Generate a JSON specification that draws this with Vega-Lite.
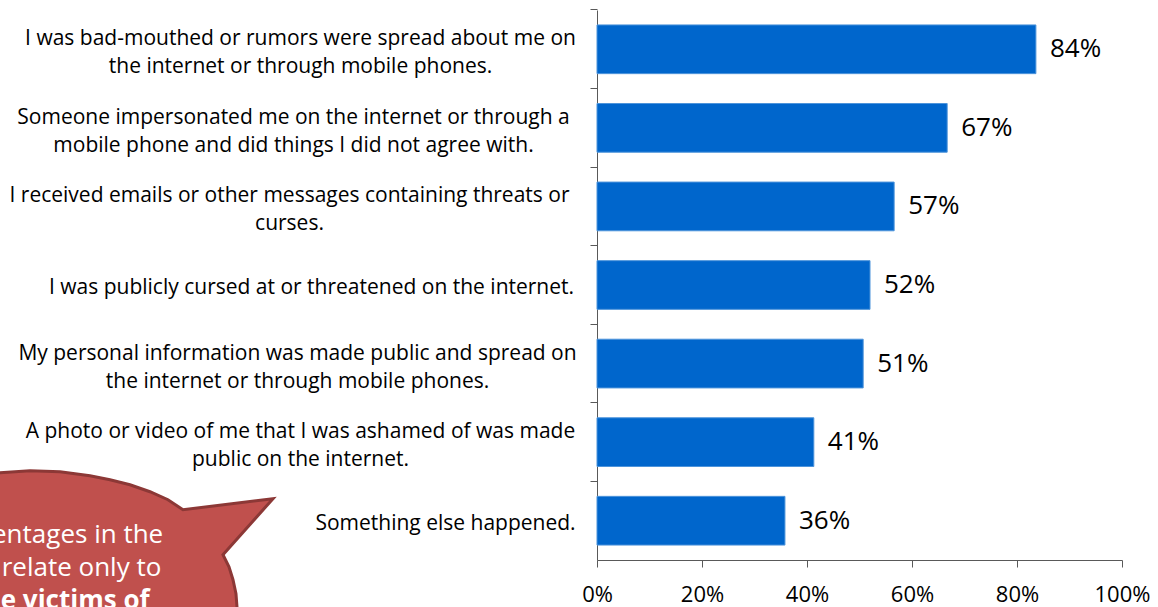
{
  "$schema": "https://vega.github.io/schema/vega-lite/v6.json",
  "width": 525,
  "height": 550,
  "autosize": {"type": "none"},
  "padding": {"left": 597, "top": 10, "right": 36, "bottom": 47},
  "background": "white",
  "config": {"view": {"stroke": null}, "font": "Open Sans"},
  "layer": [
    {
      "data": {
        "values": [
          {"item": "I was bad-mouthed or rumors were spread about me on\nthe internet or through mobile phones.", "share": 0.836},
          {"item": "Someone impersonated me on the internet or through a\nmobile phone and did things I did not agree with.", "share": 0.667},
          {"item": "I received emails or other messages containing threats or \ncurses.", "share": 0.566},
          {"item": "I was publicly cursed at or threatened on the internet.", "share": 0.52},
          {"item": "My personal information was made public and spread on\nthe internet or through mobile phones.", "share": 0.507},
          {"item": "A photo or video of me that I was ashamed of was made\npublic on the internet.", "share": 0.413},
          {"item": "Something else happened.", "share": 0.358}
        ]
      },
      "mark": {"type": "bar", "color": "#0066CC", "stroke": "#4D94DB", "strokeWidth": 1},
      "encoding": {
        "y": {
          "field": "item",
          "type": "nominal",
          "sort": null,
          "title": null,
          "scale": {"paddingInner": 0.38, "paddingOuter": 0.19},
          "axis": {
            "title": null,
            "labelExpr": "split(datum.label, '\\n')",
            "labelFont": "Open Sans",
            "labelFontSize": 21,
            "labelColor": "#000000",
            "labelLimit": 1000,
            "labelLineHeight": 28,
            "labelAlign": "center",
            "labelBaseline": "middle",
            "labelPadding": {
              "condition": [
                {"test": "indexof(datum.value, 'I was bad') === 0", "value": 290},
                {"test": "indexof(datum.value, 'Someone') === 0", "value": 297},
                {"test": "indexof(datum.value, 'I received') === 0", "value": 301},
                {"test": "indexof(datum.value, 'I was publicly') === 0", "value": 279},
                {"test": "indexof(datum.value, 'My personal') === 0", "value": 293},
                {"test": "indexof(datum.value, 'A photo') === 0", "value": 290},
                {"test": "indexof(datum.value, 'Something') === 0", "value": 145}
              ],
              "value": 290
            },
            "labelOffset": {
              "condition": {"test": "indexof(datum.value, '\\n') >= 0", "value": -10},
              "value": 3
            },
            "bandPosition": -0.3065,
            "tickSize": 7,
            "tickColor": "#595959",
            "domainColor": "#595959",
            "grid": false
          }
        },
        "x": {
          "field": "share",
          "type": "quantitative",
          "title": null,
          "scale": {"domain": [0, 1], "nice": false},
          "axis": {
            "title": null,
            "format": ".0%",
            "values": [0, 0.2, 0.4, 0.6, 0.8, 1],
            "labelFont": "Open Sans",
            "labelFontSize": 22,
            "labelColor": "#000000",
            "labelFlush": false,
            "labelPadding": 17,
            "tickSize": 7,
            "tickColor": "#595959",
            "domainColor": "#595959",
            "grid": false
          }
        }
      }
    },
    {
      "data": {
        "values": [
          {"item": "I was bad-mouthed or rumors were spread about me on\nthe internet or through mobile phones.", "share": 0.836},
          {"item": "Someone impersonated me on the internet or through a\nmobile phone and did things I did not agree with.", "share": 0.667},
          {"item": "I received emails or other messages containing threats or \ncurses.", "share": 0.566},
          {"item": "I was publicly cursed at or threatened on the internet.", "share": 0.52},
          {"item": "My personal information was made public and spread on\nthe internet or through mobile phones.", "share": 0.507},
          {"item": "A photo or video of me that I was ashamed of was made\npublic on the internet.", "share": 0.413},
          {"item": "Something else happened.", "share": 0.358}
        ]
      },
      "mark": {"type": "text", "align": "left", "baseline": "middle", "dx": 14, "fontSize": 26, "color": "#000000"},
      "encoding": {
        "y": {"field": "item", "type": "nominal", "sort": null, "title": null},
        "x": {"field": "share", "type": "quantitative", "title": null, "scale": {"domain": [0, 1], "nice": false}},
        "text": {"field": "share", "type": "quantitative", "format": ".0%"}
      }
    },
    {
      "data": {"values": [{"item": "Something else happened.", "bx": -0.9467}]},
      "mark": {
        "type": "point",
        "shape": "M -1.6 -0.43 L -1 -0.48 L -0.7 -0.5 L -0.4 -0.49 L -0.1 -0.45 L 0.1 -0.41 L 0.3 -0.36 L 0.5 -0.29 L 0.68 -0.21 L 0.83 -0.11 L 1.73 -0.22 L 1.23 0.34 L 1.29 0.46 L 1.33 0.59 L 1.36 0.73 L 1.37 0.86 L 1.38 1.19 L -1.6 1.19 Z",
        "size": 40000,
        "filled": true,
        "fill": "#C0504D",
        "stroke": "#8C3836",
        "strokeWidth": 3,
        "opacity": 1,
        "fillOpacity": 1,
        "strokeOpacity": 1
      },
      "encoding": {
        "x": {"field": "bx", "type": "quantitative", "title": null, "scale": {"domain": [0, 1], "nice": false}},
        "y": {"field": "item", "type": "nominal", "sort": null, "title": null}
      }
    },
    {
      "data": {"values": [{"item": "Something else happened.", "tx": -1.0895}]},
      "mark": {"type": "text", "text": ["The percentages in the", "question relate only to"], "align": "center", "baseline": "middle", "dy": 14, "lineHeight": 33, "fontSize": 26, "color": "#FFFFFF"},
      "encoding": {
        "x": {"field": "tx", "type": "quantitative", "title": null, "scale": {"domain": [0, 1], "nice": false}},
        "y": {"field": "item", "type": "nominal", "sort": null, "title": null}
      }
    },
    {
      "data": {"values": [{"item": "Something else happened.", "tx": -1.021}]},
      "mark": {"type": "text", "text": "the victims of", "align": "center", "baseline": "middle", "dy": 80, "fontSize": 26, "fontWeight": "bold", "color": "#FFFFFF"},
      "encoding": {
        "x": {"field": "tx", "type": "quantitative", "title": null, "scale": {"domain": [0, 1], "nice": false}},
        "y": {"field": "item", "type": "nominal", "sort": null, "title": null}
      }
    }
  ]
}
